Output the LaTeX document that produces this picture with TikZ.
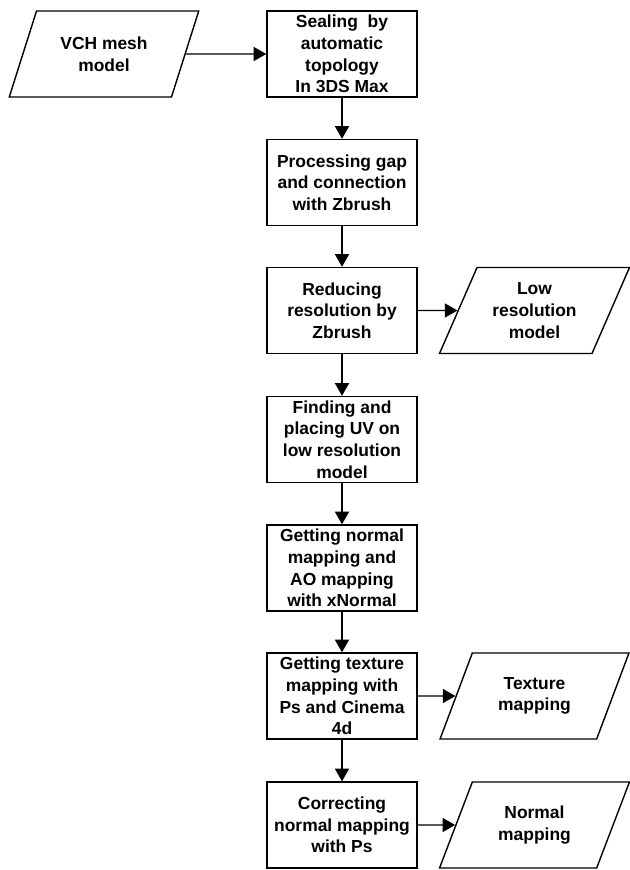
\documentclass[tikz,border=0pt]{standalone}
\usepackage{fontspec}
\setmainfont{Liberation Sans}
\usetikzlibrary{arrows.meta,shapes.geometric}

\begin{document}
\begin{tikzpicture}[x=0.025cm, y=-0.025cm, line width=1pt,
  stepbox/.style={draw, rectangle, minimum width=3.75cm, minimum height=2.15cm,
    align=center, inner sep=1pt, font=\fontsize{12.4}{15.4}\selectfont\bfseries},
  databox/.style={draw, trapezium, trapezium left angle=64, trapezium right angle=116,
    trapezium stretches=true, minimum width=4.75cm, minimum height=2.15cm,
    align=center, inner sep=1pt, font=\fontsize{12.4}{15.4}\selectfont\bfseries},
  flow/.style={-{Triangle[length=9pt,width=10pt]}}]
  \useasboundingbox (0,0) rectangle (630,870);
  % Input model
  \node[databox] (vch) at (104,54) {VCH mesh\\model};
  % Main column of steps
  \node[stepbox] (seal) at (342,54) {Sealing\ \ by\\automatic\\topology\\In 3DS Max};
  \node[stepbox] (gap) at (342,182.5) {Processing gap\\and connection\\with Zbrush};
  \node[stepbox] (reduce) at (342,310.5) {Reducing\\resolution by\\Zbrush};
  \node[stepbox] (uv) at (342,439.5) {Finding and\\placing UV on\\low resolution\\model};
  \node[stepbox] (normal) at (342,568) {Getting normal\\mapping and\\AO mapping\\with xNormal};
  \node[stepbox] (texture) at (342,696) {Getting texture\\mapping with\\Ps and Cinema\\4d};
  \node[stepbox] (correct) at (342,825) {Correcting\\normal mapping\\with Ps};
  % Outputs
  \node[databox] (lowres) at (534.5,310.5) {Low\\resolution\\model};
  \node[databox] (texmap) at (534.5,696) {Texture\\mapping};
  \node[databox] (normmap) at (534.5,825) {Normal\\mapping};
  % Connectors
  \draw[flow] (vch) -- (seal);
  \draw[flow] (seal) -- (gap);
  \draw[flow] (gap) -- (reduce);
  \draw[flow] (reduce) -- (uv);
  \draw[flow] (uv) -- (normal);
  \draw[flow] (normal) -- (texture);
  \draw[flow] (texture) -- (correct);
  \draw[flow] (reduce) -- (lowres);
  \draw[flow] (texture) -- (texmap);
  \draw[flow] (correct) -- (normmap);
\end{tikzpicture}
\end{document}
